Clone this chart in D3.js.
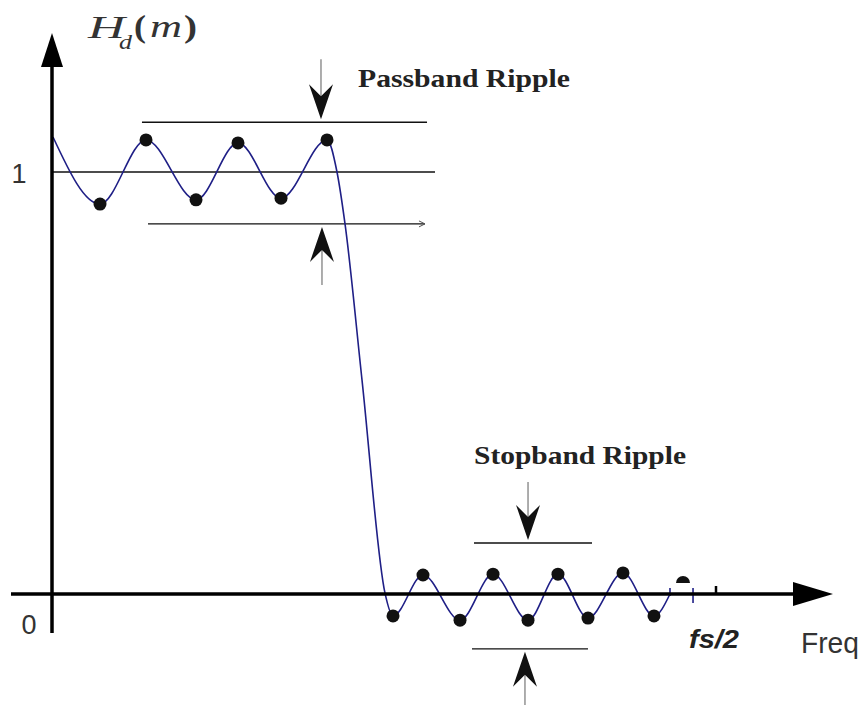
<!DOCTYPE html>
<html>
<head>
<meta charset="utf-8">
<script src="https://cdn.jsdelivr.net/npm/d3@7"></script>
<style>
  body { margin: 0; background: #fff; }
  svg { display: block; }
</style>
</head>
<body>
<svg id="chart" width="865" height="705"></svg>
<script>
// frequency as a fraction of fs/2, magnitude relative to the ideal passband gain
const responseFreq = [0.0015, 0.0723, 0.1416, 0.2169, 0.2801, 0.3449, 0.4142, 0.4292, 0.4413, 0.4669, 0.5015,
  0.5136, 0.5587, 0.6145, 0.6642, 0.7169, 0.7620, 0.8072, 0.8599, 0.9066, 0.9307];
const responseMag = [1.083, 0.924, 1.076, 0.934, 1.069, 0.938, 1.076, 1.000, 0.877, 0.507, 0.002,
  -0.052, 0.045, -0.062, 0.047, -0.062, 0.047, -0.057, 0.050, -0.052, 0.000];
const extremaIndex = [1, 2, 3, 4, 5, 6, 11, 12, 13, 14, 15, 16, 17, 18, 19];
const halfDot = [0.9503, 0.026];
const curveTicks = [0.9307, 0.9654];
const fsHalf = 1;

const yTickValues = [0, 1];
const yTickLabels = ["0", "1"];

const passbandLimits = [1.118, 0.877];
const passbandUpperSpan = [0.1355, 0.5648];
const passbandLowerSpan = [0.1446, 0.5617];
const unitLineSpan = [0, 0.5768];
const passbandArrowFreq = [0.4051, 0.4066];

const stopbandLimits = [0.121, -0.130];
const stopbandUpperSpan = [0.6355, 0.8133];
const stopbandLowerSpan = [0.6325, 0.8072];
const stopbandArrowFreq = [0.7169, 0.7123];

const svg = d3.select('#chart');

const xScale = d3.scaleLinear().domain([0, 1]).range([52, 716]);
const yScale = d3.scaleLinear().domain([0, 1]).range([594, 172]);

const points = responseFreq.map((f, i) => [f, responseMag[i]]);

// ripple limit lines
const hline = (level, span, w) => svg.append('line')
  .attr('x1', xScale(span[0])).attr('x2', xScale(span[1]))
  .attr('y1', yScale(level)).attr('y2', yScale(level))
  .attr('stroke', '#111').attr('stroke-width', w);

hline(1, unitLineSpan, 1.6);
hline(passbandLimits[0], passbandUpperSpan, 1.4);
hline(passbandLimits[1], passbandLowerSpan, 1.4);
hline(stopbandLimits[0], stopbandUpperSpan, 1.4);
hline(stopbandLimits[1], stopbandLowerSpan, 1.4);

// small arrow at the end of the lower passband line
svg.append('path')
  .attr('d', `M${xScale(passbandLowerSpan[1]) - 6},${yScale(passbandLimits[1]) - 3} L${xScale(passbandLowerSpan[1])},${yScale(passbandLimits[1])} L${xScale(passbandLowerSpan[1]) - 6},${yScale(passbandLimits[1]) + 3}`)
  .attr('fill', 'none').attr('stroke', '#555').attr('stroke-width', 1);

// ripple arrows
function rippleArrow (freq, level, dir, shaft) {
  const cx = xScale(freq);
  const tip = yScale(level) - dir * 3;
  svg.append('line')
    .attr('x1', cx).attr('x2', cx)
    .attr('y1', tip - dir * shaft).attr('y2', tip - dir * 22)
    .attr('stroke', '#777').attr('stroke-width', 1.2);
  svg.append('path')
    .attr('d', `M${cx},${tip} L${cx - 12},${tip - dir * 35} L${cx},${tip - dir * 23} L${cx + 12},${tip - dir * 35} Z`)
    .attr('fill', '#111');
}

rippleArrow(passbandArrowFreq[0], passbandLimits[0], 1, 60);
rippleArrow(passbandArrowFreq[1], passbandLimits[1], -1, 58);
rippleArrow(stopbandArrowFreq[0], stopbandLimits[0], 1, 58);
rippleArrow(stopbandArrowFreq[1], stopbandLimits[1], -1, 60);

// frequency response
const responseLine = d3.line()
  .x(d => xScale(d[0]))
  .y(d => yScale(d[1]))
  .curve(d3.curveMonotoneX);

svg.append('path')
  .attr('d', responseLine(points))
  .attr('fill', 'none')
  .attr('stroke', '#1f1f86')
  .attr('stroke-width', 1.6);

svg.selectAll('.tickmark')
  .data(curveTicks)
  .enter().append('line')
  .attr('x1', d => xScale(d)).attr('x2', d => xScale(d))
  .attr('y1', yScale(0) - 6).attr('y2', (d, i) => yScale(0) + (i ? 9 : 2))
  .attr('stroke', '#1f1f86').attr('stroke-width', 1.6);

svg.selectAll('.extremum')
  .data(extremaIndex)
  .enter().append('circle')
  .attr('cx', i => xScale(points[i][0]))
  .attr('cy', i => yScale(points[i][1]))
  .attr('r', 6.5)
  .attr('fill', '#111');

svg.append('path')
  .attr('d', d3.arc().innerRadius(0).outerRadius(7).startAngle(-Math.PI / 2).endAngle(Math.PI / 2)())
  .attr('transform', `translate(${xScale(halfDot[0])}, ${yScale(halfDot[1])})`)
  .attr('fill', '#111');

// axes
svg.append('line')
  .attr('x1', 11).attr('x2', 796)
  .attr('y1', yScale(0)).attr('y2', yScale(0))
  .attr('stroke', '#000').attr('stroke-width', 3.5);
svg.append('path')
  .attr('d', `M833,${yScale(0)} L793,${yScale(0) - 12} L793,${yScale(0) + 12} Z`)
  .attr('fill', '#000');

svg.append('line')
  .attr('x1', xScale(0)).attr('x2', xScale(0))
  .attr('y1', 633).attr('y2', 62)
  .attr('stroke', '#000').attr('stroke-width', 3.5);
svg.append('path')
  .attr('d', `M${xScale(0)},33 L${xScale(0) - 11},67 L${xScale(0) + 11},67 Z`)
  .attr('fill', '#000');

svg.append('line')
  .attr('x1', xScale(fsHalf)).attr('x2', xScale(fsHalf))
  .attr('y1', yScale(0) - 8).attr('y2', yScale(0))
  .attr('stroke', '#000').attr('stroke-width', 2.5);

// labels
svg.selectAll('.ylabel')
  .data(yTickValues)
  .enter().append('text')
  .attr('x', d => d ? 19 : 29)
  .attr('y', d => yScale(d) + (d ? 11 : 40))
  .attr('text-anchor', 'middle')
  .attr('font-family', 'Liberation Sans, Arial, sans-serif')
  .attr('font-size', 27)
  .attr('fill', '#333')
  .text((d, i) => yTickLabels[i]);

svg.append('text')
  .attr('x', 801).attr('y', 653)
  .attr('font-family', 'Liberation Sans, Arial, sans-serif')
  .attr('font-size', 30)
  .attr('textLength', 58).attr('lengthAdjust', 'spacingAndGlyphs')
  .attr('fill', '#333')
  .text('Freq');

svg.append('text')
  .attr('x', 689).attr('y', 648)
  .attr('font-family', 'Liberation Sans, Arial, sans-serif')
  .attr('font-size', 26)
  .attr('font-weight', 'bold').attr('font-style', 'italic')
  .attr('textLength', 50).attr('lengthAdjust', 'spacingAndGlyphs')
  .attr('fill', '#222')
  .text('fs/2');

const rippleLabel = (x, y, s) => svg.append('text')
  .attr('x', x).attr('y', y)
  .attr('font-family', 'Liberation Serif, Times New Roman, serif')
  .attr('font-size', 26).attr('font-weight', 'bold')
  .attr('textLength', 212).attr('lengthAdjust', 'spacingAndGlyphs')
  .attr('fill', '#222')
  .text(s);

rippleLabel(358, 87, 'Passband Ripple');
rippleLabel(474, 464, 'Stopband Ripple');

// H_d(m)
const titlePart = (x, y, size, s, w, style, weight) => svg.append('text')
  .attr('x', x).attr('y', y)
  .attr('font-family', 'Liberation Serif, Times New Roman, serif')
  .attr('font-size', size)
  .attr('font-style', style).attr('font-weight', weight)
  .attr('textLength', w).attr('lengthAdjust', 'spacingAndGlyphs')
  .attr('fill', '#333')
  .text(s);

titlePart(88, 38, 31, 'H', 37, 'italic', 'normal');
titlePart(119, 49, 20, 'd', 13, 'italic', 'normal');
titlePart(134, 37, 32, '(', 12, 'normal', 'bold');
titlePart(150, 37, 32, 'm', 32, 'italic', 'normal');
titlePart(184, 37, 32, ')', 13, 'normal', 'bold');
</script>
</body>
</html>
